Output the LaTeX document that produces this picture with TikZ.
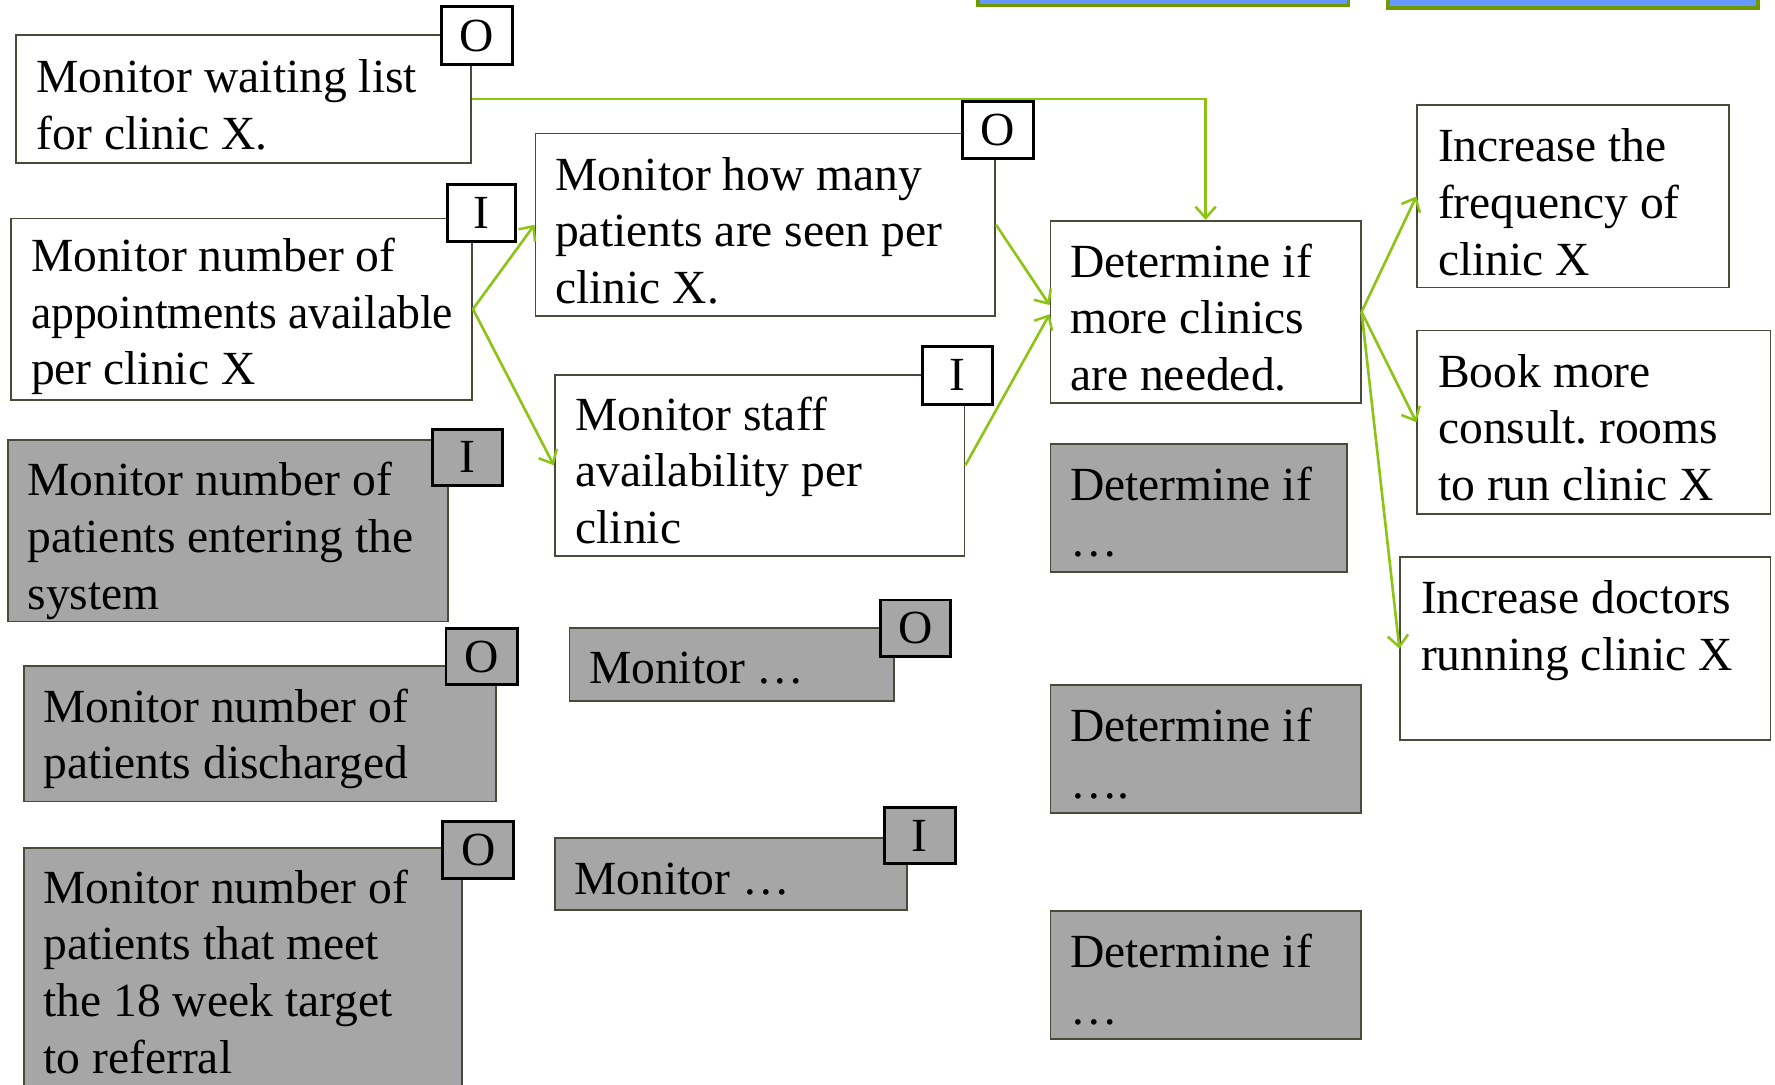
\documentclass[tikz,border=0pt]{standalone}
\usepackage{fontspec}
\setmainfont{Liberation Serif}
\usetikzlibrary{fit,arrows.meta}
\definecolor{bordc}{RGB}{73,73,60}
\definecolor{grayf}{RGB}{166,166,166}
\definecolor{arrc}{RGB}{140,196,20}
\definecolor{topg}{RGB}{112,152,0}
\definecolor{topb}{RGB}{102,153,255}
\tikzset{
  boxbase/.style={draw=bordc, line width=0.8pt, inner sep=0pt},
  wbox/.style={boxbase, fill=white},
  gbox/.style={boxbase, fill=grayf},
  tagw/.style={draw=black, line width=1.3pt, fill=white, inner sep=0pt, font=\fontsize{21}{25}\selectfont},
  tagg/.style={tagw, fill=grayf},
  txt/.style={inner sep=0pt, anchor=base west, font=\fontsize{21}{25}\selectfont},
  conn/.style={draw=arrc, line width=1.15pt, -{Straight Barb[length=5pt,width=9pt,line width=1.1pt]}},
  topbox/.style={draw=topg, line width=1.5pt, fill=topb, inner sep=0pt}
}
\frenchspacing
\newcommand{\lines}[1]{\parbox[t]{12cm}{\raggedright\frenchspacing #1}}
\begin{document}
\begin{tikzpicture}[x=0.5pt,y=-0.5pt]
\useasboundingbox[fill=white] (0,0) rectangle (1568,958);
% cut-off boxes at the top
\node[topbox, fit={(864,-30) (1191,5)}] (tb1) {};
\node[topbox, fit={(1226,-30) (1553,7)}] (tb2) {};
% left column
\node[wbox, fit={(14,31) (416,144)}] (b1) {};
\node[txt] (b1t) at (32,82) {\lines{Monitor waiting list\\for clinic X.}};
\node[tagw, fit={(390,6) (453,57)}] (b1g) {};
\node at (b1g.center) {\fontsize{21}{25}\selectfont O};

\node[wbox, fit={(10,193) (417,353)}] (b2) {};
\node[txt] (b2t) at (27,240) {\lines{Monitor number of\\\scalebox{0.96}[1]{appointments available}\\per clinic X}};
\node[tagw, fit={(395,163) (455,213)}] (b2g) {};
\node at (b2g.center) {\fontsize{21}{25}\selectfont I};

\node[gbox, fit={(7,389) (396,549)}] (b3) {};
\node[txt] (b3t) at (24,438) {\lines{Monitor number of\\patients entering the\\system}};
\node[tagg, fit={(382,379) (444,429)}] (b3g) {};
\node at (b3g.center) {\fontsize{21}{25}\selectfont I};

\node[gbox, fit={(21,588) (438,708)}] (b4) {};
\node[txt] (b4t) at (38,638) {\lines{Monitor number of\\patients discharged}};
\node[tagg, fit={(394,555) (457,605)}] (b4g) {};
\node at (b4g.center) {\fontsize{21}{25}\selectfont O};

\node[gbox, fit={(21,749) (408,985)}] (b5) {};
\node[txt] (b5t) at (38,798) {\lines{Monitor number of\\patients that meet\\the 18 week target\\to referral}};
\node[tagg, fit={(391,726) (454,776)}] (b5g) {};
\node at (b5g.center) {\fontsize{21}{25}\selectfont O};

% middle column
\node[wbox, fit={(473,118) (879,279)}] (b6) {};
\node[txt] (b6t) at (490,168) {\lines{Monitor how many\\patients are seen per\\clinic X.}};
\node[tagw, fit={(850,90) (913,140)}] (b6g) {};
\node at (b6g.center) {\fontsize{21}{25}\selectfont O};

\node[wbox, fit={(490,331) (852,491)}] (b7) {};
\node[txt] (b7t) at (508,380) {\lines{Monitor staff\\availability per\\clinic}};
\node[tagw, fit={(815,306) (877,357)}] (b7g) {};
\node at (b7g.center) {\fontsize{21}{25}\selectfont I};

\node[gbox, fit={(503,555) (790,619)}] (b8) {};
\node[txt] (b8t) at (520,604) {Monitor …};
\node[tagg, fit={(778,530) (840,580)}] (b8g) {};
\node at (b8g.center) {\fontsize{21}{25}\selectfont O};

\node[gbox, fit={(490,740) (801,804)}] (b9) {};
\node[txt] (b9t) at (507,790) {Monitor …};
\node[tagg, fit={(781,713) (844,763)}] (b9g) {};
\node at (b9g.center) {\fontsize{21}{25}\selectfont I};

% determine column
\node[wbox, fit={(928,195) (1202,356)}] (d1) {};
\node[txt] (d1t) at (945,245) {\lines{Determine if\\more clinics\\are needed.}};
\node[gbox, fit={(928,392) (1190,505)}] (d2) {};
\node[txt] (d2t) at (945,442) {\lines{Determine if\\…}};
\node[gbox, fit={(928,605) (1202,718)}] (d3) {};
\node[txt] (d3t) at (945,655) {\lines{Determine if\\….}};
\node[gbox, fit={(928,805) (1202,918)}] (d4) {};
\node[txt] (d4t) at (945,855) {\lines{Determine if\\…}};

% right column
\node[wbox, fit={(1252,93) (1527,254)}] (r1) {};
\node[txt] (r1t) at (1270,143) {\lines{Increase the\\frequency of\\clinic X}};
\node[wbox, fit={(1252,292) (1564,454)}] (r2) {};
\node[txt] (r2t) at (1270,342) {\lines{Book more\\consult. rooms\\to run clinic X}};
\node[wbox, fit={(1237,492) (1564,654)}] (r3) {};
\node[txt] (r3t) at (1255,542) {\lines{Increase doctors\\running clinic X}};

% connectors
\draw[conn] (b1.east) -| (d1.north);
\draw[conn] (b2.east) -- (b6.west);
\draw[conn] (b2.east) -- (b7.west);
\draw[conn] (b6.east) -- ([yshift=3pt]d1.west);
\draw[conn] (b7.east) -- ([yshift=-1pt]d1.west);
\draw[conn] (d1.east) -- (r1.west);
\draw[conn] (d1.east) -- (r2.west);
\draw[conn] (d1.east) -- (r3.west);
\end{tikzpicture}
\end{document}
